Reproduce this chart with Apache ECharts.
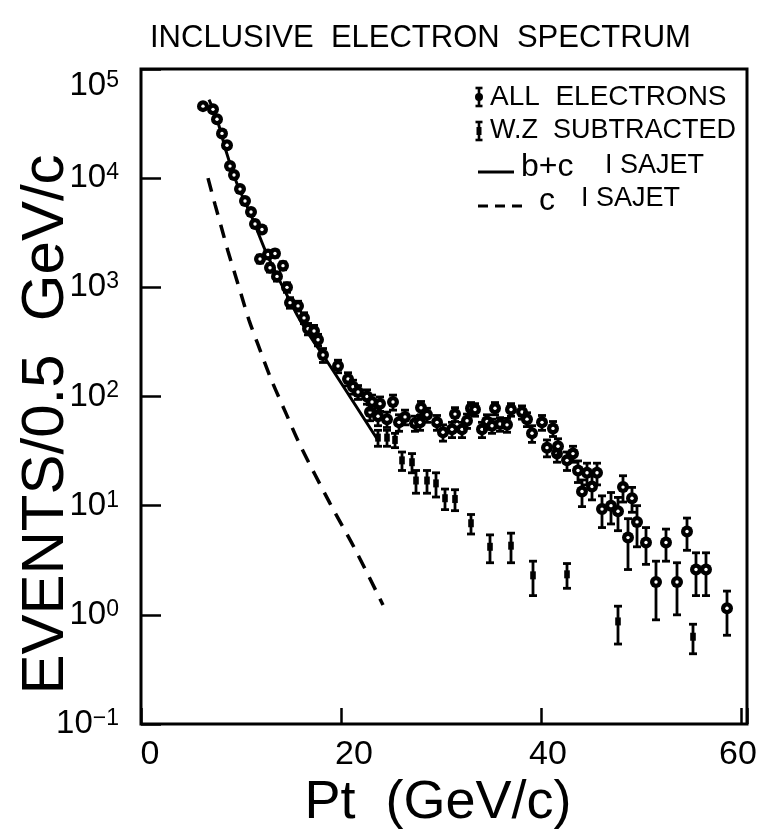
<!DOCTYPE html>
<html>
<head>
<meta charset="utf-8">
<script src="https://cdn.jsdelivr.net/npm/echarts@6/dist/echarts.min.js"></script>
<style>
  html, body { margin: 0; padding: 0; background: #fff; }
  #chart { width: 761px; height: 837px; }
</style>
</head>
<body>
<div id="chart"></div>
<script>
// All electrons: Pt (GeV/c), events per 0.5 GeV/c, statistical error
const allPt = [6.2, 7.2, 7.6, 8.1, 8.6, 8.9, 9.3, 9.9, 10.4, 11.0, 11.4, 11.9, 12.1, 12.7, 12.9, 13.4, 13.6, 14.2, 14.6, 14.9,
  15.7, 16.3, 16.7, 17.3, 17.7, 18.2, 19.7, 20.7, 21.2, 21.7, 22.6, 22.9, 23.1, 23.7, 23.9, 24.6, 25.2, 25.8, 26.4, 27.4,
  27.9, 28.0, 28.6, 29.6, 30.2, 31.1, 31.4, 32.1, 32.6, 33.0, 33.4, 34.1, 34.6, 35.1, 35.4, 35.9, 36.6, 37.0, 38.1, 38.6,
  39.1, 40.1, 40.6, 41.2, 41.6, 41.7, 42.6, 43.2, 43.7, 44.1, 44.6, 45.1, 45.6, 46.1, 47.0, 47.7, 48.2, 48.7, 49.1, 49.6,
  50.5, 51.5, 52.5, 53.6, 54.6, 55.5, 56.5, 58.6];
const allN = [45700, 42700, 34700, 25700, 20000, 12900, 10700, 7940, 6170, 4900, 3800, 1820, 3390, 2000, 1510, 2040, 1260, 1580, 1000, 724,
  676, 525, 417, 398, 331, 240, 190, 145, 123, 110, 100, 72, 89, 66, 86, 62, 89, 58, 65, 57,
  58, 79, 68, 58, 47, 50, 69, 50, 60, 78, 76, 50, 59, 54, 78, 56, 55, 76, 72, 62,
  46, 58, 34, 51, 30, 35, 26, 30, 21, 13.5, 20, 15, 20, 9.3, 10, 8.9, 14.8, 5.1, 11.7, 7.1,
  4.6, 2.0, 4.6, 2.0, 5.8, 2.6, 2.6, 1.15];
const allErr = [1000, 900, 800, 700, 600, 500, 450, 400, 350, 300, 250, 150, 200, 150, 130, 150, 120, 130, 100, 80,
  70, 60, 50, 50, 40, 35, 25, 20, 18, 16, 15, 12, 14, 12, 13, 10, 14, 10, 10, 9,
  9, 11, 10, 9, 8, 8, 10, 8, 9, 10, 10, 8, 9, 8, 10, 8, 8, 10, 10, 9,
  8, 9, 6, 8, 5, 6, 5, 5, 4.7, 3.7, 4.5, 3.7, 4.5, 3, 3.2, 3, 4, 2.5, 3, 2.9,
  1.7, 1.1, 1.5, 1.0, 1.9, 1.1, 1.1, 0.5];

// After subtraction of W and Z decays
const wzPt = [23.7, 24.6, 25.4, 26.1, 27.1, 27.5, 28.6, 29.5, 30.4, 31.4, 33.0, 34.9, 37.0, 39.2, 42.6, 47.7, 55.2];
const wzN = [42, 42, 40, 26, 25, 17, 17, 16, 11.7, 11.5, 6.9, 4.2, 4.3, 2.3, 2.35, 0.87, 0.63];
const wzErr = [7, 7, 6, 5, 5, 4, 4, 4, 2.5, 2.5, 1.4, 1.2, 1.3, 0.8, 0.6, 0.33, 0.19];

// ISAJET predictions
const bcPt = [6.8, 7.6, 8.6, 9.6, 11.1, 12.6, 14.2, 15.6, 17.2, 18.2, 23.6];
const bcN = [52500, 34700, 16600, 8900, 4370, 2000, 1000, 562, 324, 240, 41];
const cPt = [6.7, 7.4, 8.1, 8.7, 9.4, 10.1, 10.8, 11.6, 13.0, 14.5, 15.9, 18.9, 21.4, 24.2];
const cN = [10000, 5750, 3390, 2140, 1320, 813, 501, 316, 145, 70, 36, 10.5, 4.0, 1.23];

const xTickValues = [0, 20, 40, 60];

const SANS = "'Liberation Sans', Arial, sans-serif";

function zip3(a, b, c) { return a.map((v, i) => [v, b[i], c[i]]); }
function zip2(a, b) { return a.map((v, i) => [v, b[i]]); }

function errorBarItem(kind) {
  return function (params, api) {
    const x = api.value(0), y = api.value(1), e = api.value(2);
    const p = api.coord([x, y]);
    const lo = api.coord([x, Math.max(y - e, 1e-3)]);
    const hi = api.coord([x, y + e]);
    const st = { stroke: '#000', lineWidth: 2.8 };
    const kids = [
      { type: 'line', shape: { x1: p[0], y1: lo[1], x2: p[0], y2: hi[1] }, style: st },
      { type: 'line', shape: { x1: p[0] - 4, y1: lo[1], x2: p[0] + 4, y2: lo[1] }, style: st },
      { type: 'line', shape: { x1: p[0] - 4, y1: hi[1], x2: p[0] + 4, y2: hi[1] }, style: st }
    ];
    if (kind === 'all') {
      kids.push({ type: 'circle', shape: { cx: p[0], cy: p[1], r: 6 }, style: { fill: '#000' } });
      kids.push({ type: 'circle', shape: { cx: p[0], cy: p[1], r: 1.7 }, style: { fill: '#fff' } });
    } else {
      kids.push({ type: 'rect', shape: { x: p[0] - 2.8, y: p[1] - 4, width: 5.6, height: 8 }, style: { fill: '#000' } });
    }
    return { type: 'group', children: kids };
  };
}

function legendIcon(x, y, kind) {
  const st = { stroke: '#000', lineWidth: 2.6 };
  const kids = [
    { type: 'line', shape: { x1: x, y1: y - 9, x2: x, y2: y + 9 }, style: st },
    { type: 'line', shape: { x1: x - 3.5, y1: y - 9, x2: x + 3.5, y2: y - 9 }, style: st },
    { type: 'line', shape: { x1: x - 3.5, y1: y + 9, x2: x + 3.5, y2: y + 9 }, style: st }
  ];
  if (kind === 'all') {
    kids.push({ type: 'circle', shape: { cx: x, cy: y, r: 4 }, style: { fill: '#000' } });
  } else {
    kids.push({ type: 'rect', shape: { x: x - 2.5, y: y - 4, width: 5, height: 8 }, style: { fill: '#000' } });
  }
  return { type: 'group', children: kids };
}

const chart = echarts.init(document.getElementById('chart'), null, { renderer: 'canvas' });

const option = {
  backgroundColor: '#fff',
  animation: false,
  grid: {
    left: 141, right: 14, top: 69, bottom: 113, outerBoundsMode: 'none', containLabel: false,
    show: true, borderColor: '#000', borderWidth: 3, backgroundColor: 'transparent'
  },
  xAxis: {
    type: 'value', min: 0, max: 60.6, interval: 20,
    name: 'Pt  (GeV/c)', nameLocation: 'middle', nameGap: 52, nameMoveOverlap: false,
    nameTextStyle: { fontFamily: SANS, fontSize: 54, color: '#000', padding: [0, 12, 0, 0] },
    axisLine: { show: false },
    axisTick: { inside: true, length: 16, lineStyle: { color: '#000', width: 2.5 } },
    axisLabel: {
      margin: 14, color: '#000',
      formatter: v => (xTickValues.includes(v) ? '{t' + v + '|' + v + '}' : ''),
      rich: {
        t0: { fontFamily: SANS, fontSize: 34, color: '#000', padding: [0, 0, 0, 18] },
        t20: { fontFamily: SANS, fontSize: 34, color: '#000', padding: [0, 0, 0, 26] },
        t40: { fontFamily: SANS, fontSize: 34, color: '#000', padding: [0, 0, 0, 14] },
        t60: { fontFamily: SANS, fontSize: 34, color: '#000', padding: [0, 6, 0, 0] }
      }
    },
    splitLine: { show: false }
  },
  yAxis: {
    type: 'log', logBase: 10, min: 0.1, max: 100000,
    name: 'EVENTS/0.5  GeV/c', nameLocation: 'middle', nameGap: 65, nameRotate: 90, nameMoveOverlap: false,
    nameTextStyle: { fontFamily: SANS, fontSize: 60, color: '#000', padding: [0, 56, 0, 0] },
    axisLine: { show: false },
    axisTick: { inside: true, length: 20, lineStyle: { color: '#000', width: 2.5 } },
    minorTick: { show: false },
    splitLine: { show: false },
    axisLabel: {
      margin: 22, color: '#000',
      verticalAlignMaxLabel: 'top',
      formatter: v => {
        const e = Math.round(Math.log10(v));
        return '{b|10}{s|' + (e < 0 ? '\u2212' + (-e) : e) + '}';
      },
      rich: {
        b: { fontFamily: SANS, fontSize: 33, color: '#000', lineHeight: 34 },
        s: { fontFamily: SANS, fontSize: 23, color: '#000', verticalAlign: 'top', lineHeight: 34, padding: [0, 0, 16, 0] }
      }
    }
  },
  graphic: [
    { type: 'text', x: 150, y: 38, style: { text: 'INCLUSIVE  ELECTRON  SPECTRUM', font: '31px ' + SANS, fill: '#000', verticalAlign: 'middle' } },
    { type: 'text', x: 490, y: 97, style: { text: 'ALL  ELECTRONS', font: '28px ' + SANS, fill: '#000', verticalAlign: 'middle' } },
    { type: 'text', x: 490, y: 131, style: { text: 'W.Z  SUBTRACTED', font: '27px ' + SANS, fill: '#000', verticalAlign: 'middle' } },
    { type: 'text', x: 521, y: 167, style: { text: 'b+c', font: '32px ' + SANS, fill: '#000', verticalAlign: 'middle' } },
    { type: 'text', x: 605, y: 166, style: { text: 'I SAJET', font: '27px ' + SANS, fill: '#000', verticalAlign: 'middle' } },
    { type: 'text', x: 539, y: 201, style: { text: 'c', font: '32px ' + SANS, fill: '#000', verticalAlign: 'middle' } },
    { type: 'text', x: 581, y: 199, style: { text: 'I SAJET', font: '27px ' + SANS, fill: '#000', verticalAlign: 'middle' } },
    { type: 'line', shape: { x1: 478, y1: 172, x2: 514, y2: 172 }, style: { stroke: '#000', lineWidth: 3 } },
    { type: 'line', shape: { x1: 478, y1: 206, x2: 526, y2: 206 }, style: { stroke: '#000', lineWidth: 3, lineDash: [10, 7] } },
    legendIcon(479, 97, 'all'),
    legendIcon(479, 131, 'wz')
  ],
  series: [
    {
      name: 'b+c ISAJET', type: 'line', data: zip2(bcPt, bcN), smooth: 0.3, showSymbol: false,
      lineStyle: { color: '#000', width: 3 }, z: 2
    },
    {
      name: 'c ISAJET', type: 'line', data: zip2(cPt, cN), smooth: 0.3, showSymbol: false,
      lineStyle: { color: '#000', width: 3.5, type: [14, 10] }, z: 2
    },
    {
      name: 'W.Z SUBTRACTED', type: 'custom', renderItem: errorBarItem('wz'),
      data: zip3(wzPt, wzN, wzErr), encode: { x: 0, y: 1 }, z: 3
    },
    {
      name: 'ALL ELECTRONS', type: 'custom', renderItem: errorBarItem('all'),
      data: zip3(allPt, allN, allErr), encode: { x: 0, y: 1 }, z: 4
    }
  ]
};

chart.setOption(option);
</script>
</body>
</html>
